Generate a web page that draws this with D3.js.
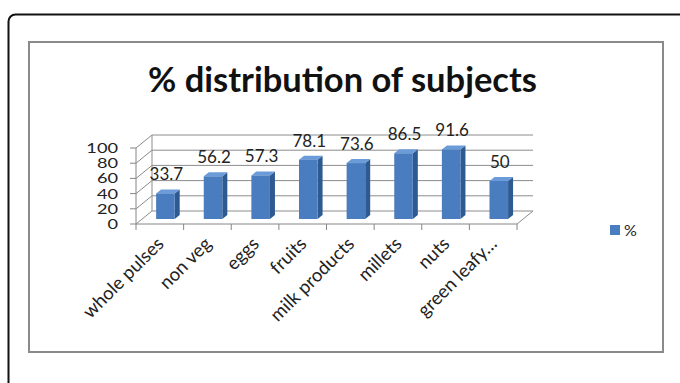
<!DOCTYPE html>
<html>
<head>
<meta charset="utf-8">
<script src="https://cdn.jsdelivr.net/npm/d3@7"></script>
<style>
body { margin: 0; background: #ffffff; }
text { font-family: Lato, "Open Sans", sans-serif; fill: #222; }
</style>
</head>
<body>
<script>
//chart data
const categories = ["whole pulses", "non veg", "eggs", "fruits", "milk products", "millets", "nuts", "green leafy…"];
const percentValues = [33.7, 56.2, 57.3, 78.1, 73.6, 86.5, 91.6, 50];
const yTicks = [0, 20, 40, 60, 80, 100];
const chartTitle = "% distribution of subjects";
const seriesName = "%";

//3d offsets
const wallDX = 16, wallDY = -13;
const barDX = 5.6, barDY = -5;
const sideDX = 5, sideDY = -4;

const frontColor = "#4a7dbf";
const sideColor = "#2d5a91";
const topColor = "#6b9bd8";
const gridColor = "#8c8c8c";

var svg = d3.select("body")
    .append("svg")
    .attr("width", 680)
    .attr("height", 383);

//outer rounded frame, runs off the page on right and bottom
svg.append("rect")
    .attr("x", 8.5)
    .attr("y", 14.5)
    .attr("width", 720)
    .attr("height", 420)
    .attr("rx", 7)
    .style("fill", "none")
    .style("stroke", "#111")
    .style("stroke-width", 2);

//chart area box
svg.append("rect")
    .attr("x", 29)
    .attr("y", 42)
    .attr("width", 634)
    .attr("height", 310)
    .style("fill", "#fff")
    .style("stroke", "#8a8a8a")
    .style("stroke-width", 2);

//title, sized to its width in the picture
var title = svg.append("text")
    .attr("x", 342.5)
    .attr("y", 92)
    .attr("text-anchor", "middle")
    .style("font-weight", "bold")
    .style("font-size", "32px")
    .style("fill", "#111")
    .text(chartTitle);
var titleLen = title.node().getComputedTextLength();
title.style("font-size", (32 * 389 / titleLen) + "px");

var x = d3.scaleBand()
    .domain(categories)
    .range([136, 517])
    .padding(0);

var y = d3.scaleLinear()
    .domain([0, 100])
    .range([224, 148]);

var barW = x.bandwidth() * 0.39;

//gridlines: side wall diagonals and back wall lines
var grid = svg.append("g");
yTicks.forEach(function (t) {
    grid.append("line")
        .attr("x1", x.range()[0]).attr("y1", y(t))
        .attr("x2", x.range()[0] + wallDX).attr("y2", y(t) + wallDY)
        .style("stroke", gridColor);
    grid.append("line")
        .attr("x1", x.range()[0] + wallDX).attr("y1", y(t) + wallDY)
        .attr("x2", x.range()[1] + wallDX).attr("y2", y(t) + wallDY)
        .style("stroke", gridColor);
});

//back corner of the walls
grid.append("line")
    .attr("x1", x.range()[0] + wallDX).attr("y1", y(0) + wallDY)
    .attr("x2", x.range()[0] + wallDX).attr("y2", y(100) + wallDY)
    .style("stroke", gridColor);

//floor right edge
grid.append("line")
    .attr("x1", x.range()[1]).attr("y1", y(0))
    .attr("x2", x.range()[1] + wallDX).attr("y2", y(0) + wallDY)
    .style("stroke", gridColor);

//front axes
grid.append("line")
    .attr("x1", x.range()[0]).attr("y1", y(0))
    .attr("x2", x.range()[1]).attr("y2", y(0))
    .style("stroke", "#868686");
grid.append("line")
    .attr("x1", x.range()[0]).attr("y1", y(0))
    .attr("x2", x.range()[0]).attr("y2", y(100))
    .style("stroke", "#868686");

//y ticks and labels
var yAxis = svg.append("g").selectAll("g")
    .data(yTicks)
    .enter()
    .append("g");

yAxis.append("line")
    .attr("x1", x.range()[0] - 6).attr("x2", x.range()[0])
    .attr("y1", function (d) { return y(d); })
    .attr("y2", function (d) { return y(d); })
    .style("stroke", "#868686");

//labels are squat and wide in the picture, so stretch them sideways
yAxis.append("text")
    .attr("transform", function (d) { return "translate(118," + y(d) + ") scale(1.3,1)"; })
    .attr("dy", "0.36em")
    .attr("text-anchor", "end")
    .style("font-size", "14px")
    .text(function (d) { return d; });

//x ticks between categories
var xTicks = categories.map(function (c) { return x(c); }).concat([x.range()[1]]);
svg.append("g").selectAll("line")
    .data(xTicks)
    .enter()
    .append("line")
    .attr("x1", function (d) { return d; })
    .attr("x2", function (d) { return d; })
    .attr("y1", y(0))
    .attr("y2", y(0) + 6)
    .style("stroke", "#868686");

//bars
var data = categories.map(function (c, i) { return { cat: c, value: percentValues[i] }; });

var bars = svg.append("g").selectAll("g")
    .data(data)
    .enter()
    .append("g");

function frontLeft(d) { return x(d.cat) + x.bandwidth() / 2 - barW / 2 + barDX; }
function topY(d) { return y(d.value) + barDY; }
var baseY = y(0) + barDY;

bars.append("polygon")
    .attr("points", function (d) {
        var l = frontLeft(d) + barW, t = topY(d);
        return [[l, t], [l + sideDX, t + sideDY], [l + sideDX, baseY + sideDY], [l, baseY]].join(" ");
    })
    .style("fill", sideColor);

bars.append("polygon")
    .attr("points", function (d) {
        var l = frontLeft(d), t = topY(d);
        return [[l, t], [l + sideDX, t + sideDY], [l + barW + sideDX, t + sideDY], [l + barW, t]].join(" ");
    })
    .style("fill", topColor);

bars.append("rect")
    .attr("x", frontLeft)
    .attr("y", topY)
    .attr("width", barW)
    .attr("height", function (d) { return baseY - topY(d); })
    .style("fill", frontColor);

//value labels
bars.append("text")
    .attr("x", function (d) { return frontLeft(d) + barW / 2 + 1; })
    .attr("y", function (d) { return topY(d) + sideDY - 9; })
    .attr("text-anchor", "middle")
    .style("font-size", "17px")
    .text(function (d) { return d.value; });

//category labels, rotated
svg.append("g").selectAll("text")
    .data(categories)
    .enter()
    .append("text")
    .attr("transform", function (d) {
        return "translate(" + (x(d) + x.bandwidth() / 2 + 5) + "," + 245 + ") rotate(-45)";
    })
    .attr("text-anchor", "end")
    .style("font-size", "18.5px")
    .text(function (d) { return d; });

//legend
svg.append("rect")
    .attr("x", 610)
    .attr("y", 225)
    .attr("width", 10)
    .attr("height", 10)
    .style("fill", frontColor);

svg.append("text")
    .attr("x", 624)
    .attr("y", 230)
    .attr("dy", "0.36em")
    .style("font-size", "16px")
    .text(seriesName);
</script>
</body>
</html>
